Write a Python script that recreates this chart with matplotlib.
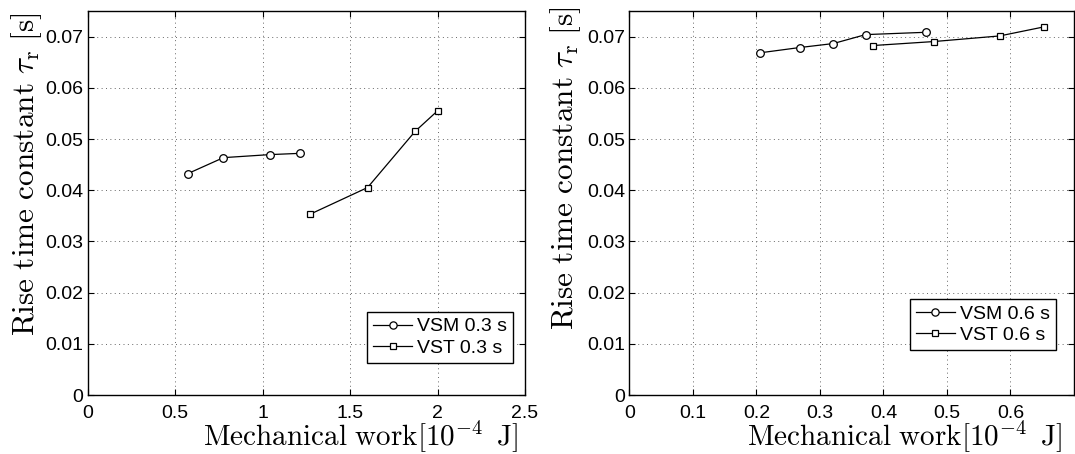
import numpy as np
import matplotlib.pyplot as plt

plt.rcParams["font.family"] = ["Liberation Sans", "DejaVu Sans"]
plt.rcParams["mathtext.fontset"] = "cm"

# left panel: 0.3 s tasks
vsm03_x = [0.573, 0.776, 1.041, 1.215]
vsm03_y = [0.04325, 0.04636, 0.04695, 0.04720]
vst03_x = [1.272, 1.600, 1.872, 2.000]
vst03_y = [0.03532, 0.04052, 0.05150, 0.05550]

# right panel: 0.6 s tasks
vsm06_x = [0.205, 0.268, 0.321, 0.372, 0.4665]
vsm06_y = [0.06682, 0.06786, 0.06864, 0.07039, 0.07084]
vst06_x = [0.383, 0.479, 0.583, 0.652]
vst06_y = [0.06825, 0.06903, 0.07013, 0.07188]

yticks = [0, 0.01, 0.02, 0.03, 0.04, 0.05, 0.06, 0.07]
ytick_labels = ["0", "0.01", "0.02", "0.03", "0.04", "0.05", "0.06", "0.07"]
xticks_left = [0, 0.5, 1, 1.5, 2, 2.5]
xtick_labels_left = ["0", "0.5", "1", "1.5", "2", "2.5"]
xticks_right = [0, 0.1, 0.2, 0.3, 0.4, 0.5, 0.6]
xtick_labels_right = ["0", "0.1", "0.2", "0.3", "0.4", "0.5", "0.6"]

ylab = r"$\mathrm{Rise\ time\ constant}\ \tau_{\mathrm{r}}\ [\mathrm{s}]$"
xlab = r"$\mathrm{Mechanical\ work[10^{-4}\ \,J]}$"


def style_axes(ax, xlim, xticks, xticklabels):
    ax.set_xlim(*xlim)
    ax.set_ylim(0, 0.075)
    ax.set_xticks(xticks)
    ax.set_xticklabels(xticklabels)
    ax.set_yticks(yticks)
    ax.set_yticklabels(ytick_labels)
    ax.tick_params(direction="in", length=4, width=0.8, top=True, right=True,
                   labelsize=14)
    ax.tick_params(axis="y", pad=3)
    ax.tick_params(axis="x", pad=7)
    ax.grid(True, linestyle=(0, (1, 3.5)), color="#666666", linewidth=0.7)
    for s in ax.spines.values():
        s.set_linewidth(1.0)
    ax.set_ylabel(ylab, fontsize=22.5)
    ax.set_xlabel(xlab, fontsize=21)


fig = plt.figure(figsize=(10.75, 4.54), dpi=100)
ax1 = fig.add_axes([87.7 / 1075, 59 / 454, 437.3 / 1075, 384 / 454])
ax2 = fig.add_axes([629.3 / 1075, 59 / 454, 444.7 / 1075, 384 / 454])

line_kw = dict(color="black", mfc="white", lw=0.9, mew=0.9)

ax1.plot(vsm03_x, vsm03_y, marker="o", ms=5.5, label="VSM 0.3 s", **line_kw)
ax1.plot(vst03_x, vst03_y, marker="s", ms=4.5, label="VST 0.3 s", **line_kw)
style_axes(ax1, (0, 2.5), xticks_left, xtick_labels_left)
ax1.yaxis.set_label_coords(-0.1, 0.576)
ax1.xaxis.set_label_coords(0.625, -0.062)

ax2.plot(vsm06_x, vsm06_y, marker="o", ms=5.5, label="VSM 0.6 s", **line_kw)
ax2.plot(vst06_x, vst06_y, marker="s", ms=4.5, label="VST 0.6 s", **line_kw)
style_axes(ax2, (0, 0.7), xticks_right, xtick_labels_right)
ax2.yaxis.set_label_coords(-0.104, 0.59)
ax2.xaxis.set_label_coords(0.62, -0.062)

for ax, anchor in [(ax1, (0.973, 0.084)), (ax2, (0.959, 0.117))]:
    leg = ax.legend(loc="lower right", bbox_to_anchor=anchor, borderaxespad=0,
                    fontsize=14, fancybox=False, edgecolor="black", framealpha=1,
                    handlelength=2.0, handletextpad=0.27, borderpad=0.3,
                    labelspacing=0.2, markerscale=0.95)
    leg.get_frame().set_linewidth(1.0)

fig.savefig("out.png", dpi=100)
